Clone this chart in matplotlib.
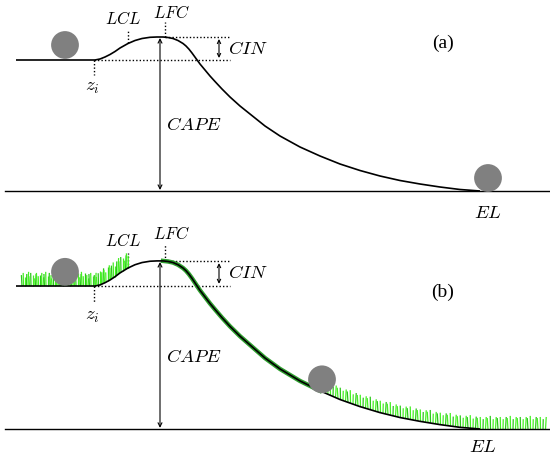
import numpy as np
import matplotlib
matplotlib.use('Agg')
import matplotlib.pyplot as plt
from matplotlib.collections import LineCollection

plt.rcParams['mathtext.fontset'] = 'cm'

# profile of the parcel path (x in px, height above EL line)
prof_x = [16, 95, 100, 105, 110, 115, 120, 128, 135, 142, 150, 157, 163, 168, 173,
          178, 183, 186, 189, 192, 196, 200, 205, 210, 215, 222, 230, 240, 250, 265, 280,
          300, 320, 340, 360, 380, 400, 420, 440, 460, 480]
prof_h = [131, 131, 132, 134, 136.5, 139.5, 143, 147.5, 150.5, 152.5, 153.7, 154, 154, 153.5, 152.5,
          150.5, 147.5, 145, 141.8, 138, 132.5, 127, 121, 115, 109.5, 102, 94, 85, 77, 65, 55,
          44, 35, 27, 20.5, 15, 10.5, 7, 4, 1.5, 0]

x_zi, x_lcl, x_lfc = 94, 128, 165
h_base, h_peak = 131, 154
x_cin, x_cape = 219, 160

# balls (x, height of centre) for each panel
balls_a = [(65, 146), (488, 13)]
balls_b = [(65, 144), (322, 45.5)]

# grass blade heights (repeating pattern)
blade_left = [10, 12, 8, 11, 13, 9, 12, 10, 7, 11, 12, 9]
blade_right = [10, 11, 9, 11, 10, 12, 9, 11]

fig = plt.figure(figsize=(5.5, 4.59), dpi=100)
ax_a = fig.add_axes([0, 234 / 459, 1, 225 / 459])
ax_b = fig.add_axes([0, 0, 1, 234 / 459])

ax_a.set_ylim(-34, 191)
ax_b.set_ylim(-27.5, 186.9)

tfs = 13.5
dot = dict(color='black', lw=1.0, linestyle=(0, (1, 1.5)))


def draw_panel(ax, balls, label, label_h, el_x, el_h):
    ax.set_xlim(0, 550)
    ax.axis('off')
    ax.plot(prof_x, prof_h, color='black', lw=1.2, zorder=4, solid_capstyle='butt')
    ax.plot([5, 550], [0, 0], color='black', lw=1.0, zorder=4)
    # dotted markers
    ax.plot([x_zi, x_zi], [h_base, h_base - 15], **dot)
    ax.plot([x_lcl, x_lcl], [147.5, 161], **dot)
    ax.plot([x_lfc, x_lfc], [h_peak, h_peak + 15], **dot)
    ax.plot([x_lfc, 230], [h_peak, h_peak], **dot)
    ax.plot([x_zi, 230], [h_base, h_base], **dot)
    ax.annotate('', xy=(x_cin, h_peak - 2), xytext=(x_cin, h_base + 2),
                arrowprops=dict(arrowstyle='<->', lw=0.8, color='black',
                                shrinkA=0, shrinkB=0, mutation_scale=6))
    ax.annotate('', xy=(x_cape, h_peak - 1), xytext=(x_cape, 1),
                arrowprops=dict(arrowstyle='<->', lw=0.8, color='black',
                                shrinkA=0, shrinkB=0, mutation_scale=7))
    ax.text(123, 172, r'$LCL$', fontsize=tfs - 1.5, ha='center', va='center')
    ax.text(171, 178.5, r'$LFC$', fontsize=tfs - 1.5, ha='center', va='center')
    ax.text(92, 104, r'$z_i$', fontsize=tfs, ha='center', va='center')
    ax.text(228, 143, r'$CIN$', fontsize=tfs, ha='left', va='center')
    ax.text(166, 66, r'$CAPE$', fontsize=tfs, ha='left', va='center')
    ax.text(el_x, el_h, r'$EL$', fontsize=tfs, ha='center', va='center')
    ax.text(443, label_h, label, fontsize=14, ha='center', va='center',
            family='Liberation Serif')
    bx, bh = zip(*balls)
    ax.scatter(bx, bh, s=400, color='#808080', edgecolors='none', zorder=6)


draw_panel(ax_a, balls_a, '(a)', 148, 488, -22)
draw_panel(ax_b, balls_b, '(b)', 125, 483, -16.5)

# grass on panel (b)
segs, cols = [], []
xs = np.arange(22, 129, 1.5)
for i, x in enumerate(xs):
    h0 = np.interp(x, prof_x, prof_h)
    hb = blade_left[i % len(blade_left)] + (2 if x > 100 else 0)
    lean = ((i % 5) - 2) * 0.3
    segs.append([(x, h0), (x + lean, h0 + hb)])
    cols.append('#44f022' if i % 3 else '#2cc81a')
xs = np.arange(318, 546, 2.5)
for i, x in enumerate(xs):
    h0 = np.interp(x, prof_x, prof_h, right=0)
    hb = blade_right[i % len(blade_right)]
    lean = ((i % 4) - 1.5) * 0.5
    segs.append([(x, h0), (x + lean, h0 + hb)])
    cols.append('#44f022' if i % 3 else '#2cc81a')
ax_b.add_collection(LineCollection(segs, colors=cols, linewidths=0.9, zorder=3))

mask = [(x >= 163) and (x <= 330) for x in prof_x]
ax_b.plot([x for x, m in zip(prof_x, mask) if m],
          [h for h, m in zip(prof_h, mask) if m],
          color='#2e9e2e', lw=3.2, zorder=3)

fig.savefig('out.png', dpi=100)
